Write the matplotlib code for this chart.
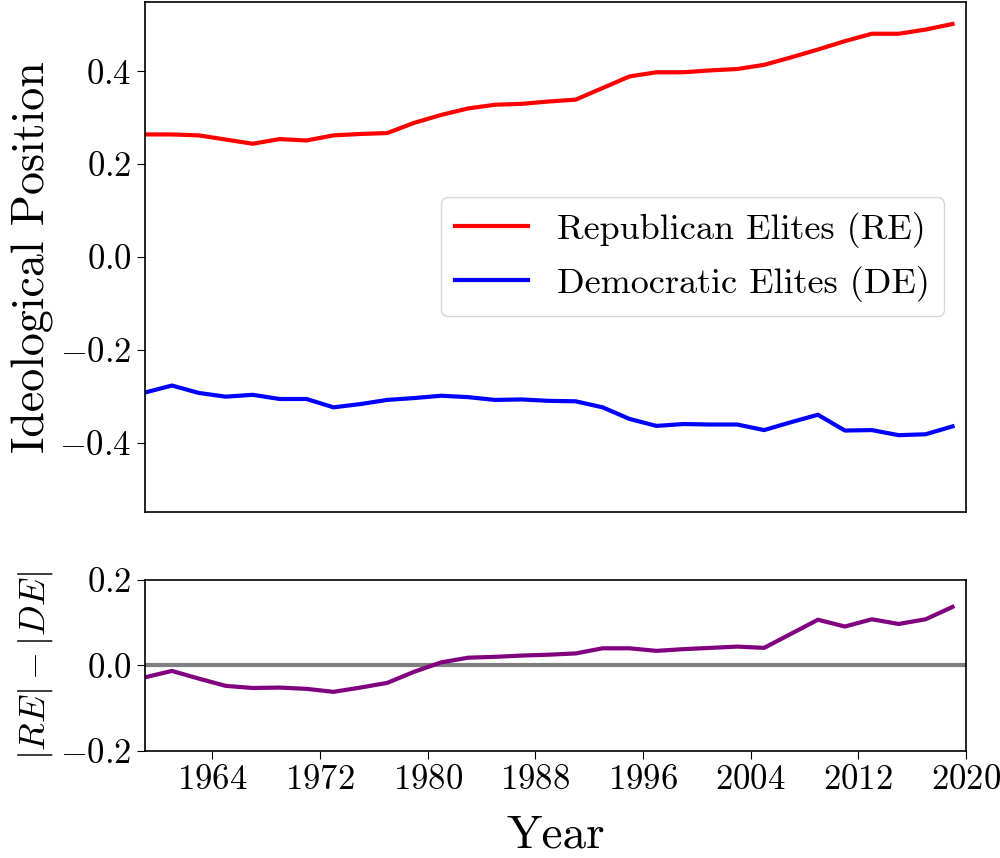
import matplotlib
matplotlib.use("Agg")
import matplotlib.pyplot as plt
import numpy as np

plt.rcParams["font.family"] = "serif"
plt.rcParams["font.serif"] = ["cmr10"]
plt.rcParams["mathtext.fontset"] = "cm"
plt.rcParams["axes.formatter.use_mathtext"] = True
plt.rcParams["axes.linewidth"] = 1.2

# congress years, one every two years
years = np.arange(1959, 2020, 2)

republican = [0.264, 0.264, 0.262, 0.253, 0.244, 0.254, 0.251, 0.262, 0.265, 0.267,
              0.289, 0.306, 0.320, 0.328, 0.330, 0.335, 0.339, 0.364, 0.389, 0.398,
              0.398, 0.402, 0.405, 0.414, 0.430, 0.447, 0.465, 0.481, 0.481, 0.490,
              0.502]
democratic = [-0.292, -0.277, -0.293, -0.301, -0.297, -0.306, -0.306, -0.324, -0.317, -0.308,
              -0.304, -0.299, -0.302, -0.308, -0.307, -0.310, -0.311, -0.324, -0.349, -0.364,
              -0.360, -0.361, -0.361, -0.373, -0.356, -0.340, -0.374, -0.373, -0.384, -0.382,
              -0.365]

re = np.array(republican)
de = np.array(democratic)
gap = np.abs(re) - np.abs(de)

fig = plt.figure(figsize=(10, 8.58), dpi=100)
ax1 = fig.add_axes([0.145, 0.403, 0.821, 0.595])
ax2 = fig.add_axes([0.145, 0.125, 0.821, 0.199])

ax1.plot(years, re, color="red", lw=3, label="Republican Elites (RE)")
ax1.plot(years, de, color="blue", lw=3, label="Democratic Elites (DE)")
ax1.set_xlim(1959, 2020)
ax1.set_ylim(-0.55, 0.55)
ax1.set_xticks([])
ax1.set_yticks([-0.4, -0.2, 0.0, 0.2, 0.4])
ax1.tick_params(labelsize=25, length=6)
ax1.set_ylabel("Ideological Position", fontsize=33)
ax1.legend(loc="center right", fontsize=26, bbox_to_anchor=(0.995, 0.5))

ax2.axhline(0, color="gray", lw=3)
ax2.plot(years, gap, color="purple", lw=3)
ax2.set_xlim(1959, 2020)
ax2.set_ylim(-0.2, 0.2)
ax2.set_xticks(np.arange(1964, 2021, 8))
ax2.set_yticks([-0.2, 0.0, 0.2])
ax2.tick_params(labelsize=25, length=6)
ax2.set_ylabel(r"$|RE| - |DE|$", fontsize=26)
ax2.set_xlabel("Year", fontsize=34, labelpad=14)

fig.align_ylabels([ax1, ax2])
fig.savefig("out.png", dpi=100)
